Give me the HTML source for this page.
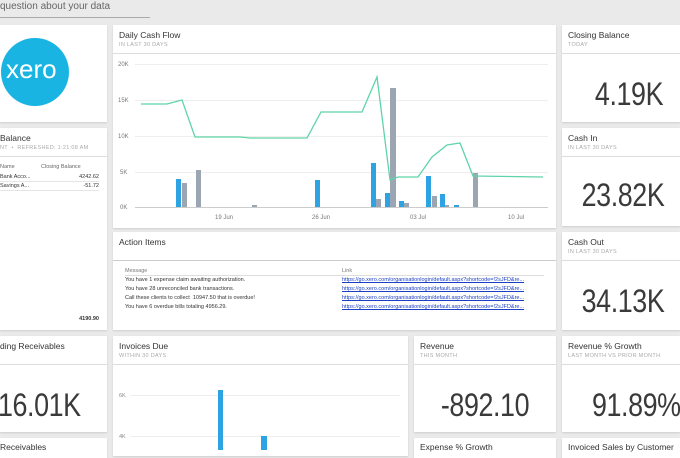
<!DOCTYPE html>
<html><head><meta charset="utf-8"><style>
body{margin:0;width:680px;height:450px;background:#eaeaea;position:relative;overflow:hidden;font-family:"Segoe UI","Liberation Sans",sans-serif;color:#333}
.t{position:absolute;background:#fff;box-shadow:0 1px 2px rgba(0,0,0,.12);overflow:hidden}
.h{position:absolute;left:6px;top:5px;font-size:8.5px;color:#333;white-space:nowrap}
.s{position:absolute;left:6px;top:17px;font-size:5.5px;color:#aaa;letter-spacing:.3px;white-space:nowrap}
.sep{position:absolute;left:0;right:0;top:28px;height:1px;background:#ddd}
.big{position:absolute;left:0;right:0;text-align:center;font-size:32px;color:#3a3a3a;font-family:"Liberation Sans",sans-serif;letter-spacing:-.5px;transform:scaleX(.84);transform-origin:center}
.a{position:absolute;font-size:5.5px;white-space:nowrap}
</style></head><body>
<div style="position:absolute;left:0;top:1px;font-size:10px;color:#666">question about your data</div>
<div style="position:absolute;left:0;top:17px;width:150px;height:1px;background:#aaa"></div>

<div class="t" style="left:0;top:25px;width:107px;height:97px">
<div style="position:absolute;left:1px;top:13px;width:68px;height:68px;border-radius:50%;background:#1ab4e3"></div>
<div style="position:absolute;left:6px;top:29px;font-size:26px;color:#fff;font-family:'Liberation Sans',sans-serif;">xero</div>
</div>

<div class="t" style="left:0;top:128px;width:107px;height:202px">
<div class="h" style="left:0">Balance</div>
<div class="s" style="left:0">NT &nbsp;• &nbsp;REFRESHED: 1:21:08 AM</div>
<div class="sep"></div>
<div class="a" style="left:0;top:36px;color:#666">Name</div><div class="a" style="left:41px;top:36px;color:#666">Closing Balance</div>
<div class="a" style="left:0;top:46px">Bank Acco...</div><div class="a" style="right:8px;top:46px">4242.62</div>
<div class="a" style="left:0;top:55px">Savings A...</div><div class="a" style="right:8px;top:55px">-51.72</div>
<div style="position:absolute;left:0;right:8px;top:53px;height:1px;background:#e5e5e5"></div>
<div style="position:absolute;left:0;right:8px;top:62px;height:1px;background:#e5e5e5"></div>
<div class="a" style="right:8px;top:188px;font-weight:bold">4190.90</div>
</div>

<div class="t" style="left:113px;top:25px;width:443px;height:203px">
<div class="h">Daily Cash Flow</div><div class="s">IN LAST 30 DAYS</div><div class="sep"></div>
</div>
<svg style="position:absolute;left:0;top:0" width="680" height="450">
<g stroke="#eee" stroke-width="1">
<line x1="135" x2="548" y1="64.5" y2="64.5"/><line x1="135" x2="548" y1="100.5" y2="100.5"/><line x1="135" x2="548" y1="136.5" y2="136.5"/><line x1="135" x2="548" y1="172.5" y2="172.5"/>
</g>
<line x1="135" x2="548" y1="207.5" y2="207.5" stroke="#ccc"/>
<g font-size="6" fill="#777" font-family="Liberation Sans,sans-serif">
<text x="118" y="66">20K</text><text x="118" y="102">15K</text><text x="118" y="138">10K</text><text x="120" y="174">5K</text><text x="120" y="209">0K</text>
<text x="215" y="219">19 Jun</text><text x="312" y="219">26 Jun</text><text x="410" y="219">03 Jul</text><text x="508" y="219">10 Jul</text>
</g>
<g fill="#2ea3e3">
<rect x="176" y="179" width="5" height="28"/><rect x="315" y="180" width="5" height="27"/><rect x="371" y="163" width="5" height="44"/><rect x="385" y="193" width="5" height="14"/><rect x="399" y="201" width="5" height="6"/><rect x="426" y="176" width="5" height="31"/><rect x="440" y="194" width="5" height="13"/><rect x="454" y="205" width="5" height="2"/>
</g>
<g fill="#9ba6b2">
<rect x="182" y="183" width="5" height="24"/><rect x="196" y="170" width="5" height="37"/><rect x="252" y="205" width="5" height="2"/><rect x="376" y="199" width="5" height="8"/><rect x="390" y="88" width="6" height="119"/><rect x="404" y="203" width="5" height="4"/><rect x="432" y="196" width="5" height="11"/><rect x="445" y="205" width="4" height="2"/><rect x="473" y="173" width="5" height="34"/>
</g>
<polyline fill="none" stroke="#5fd4a8" stroke-width="1.3" points="141,104 167,104 182,100 195,137 240,137 250,138 307,138 321,112 362,112 377,77 390,180 398,177 418,177 432,157 447,145 460,143 473,176 543,177"/>
</svg>

<div class="t" style="left:113px;top:232px;width:443px;height:98px">
<div class="h">Action Items</div><div style="position:absolute;left:0;right:0;top:28px;height:1px;background:#ccc"></div>
<div class="a" style="left:12px;top:36px;color:#777">Message</div><div class="a" style="left:229px;top:36px;color:#777">Link</div>
<div style="position:absolute;left:12px;right:12px;top:43px;height:1px;background:#ddd"></div>
<div class="a" style="left:12px;top:45px">You have 1 expense claim awaiting authorization.</div>
<div class="a" style="left:12px;top:54px">You have 28 unreconciled bank transactions.</div>
<div class="a" style="left:12px;top:63px">Call these clients to collect &nbsp;10947.50 that is overdue!</div>
<div class="a" style="left:12px;top:72px">You have 6 overdue bills totaling 4956.29.</div>
<div class="a" style="left:229px;top:45px;color:#1a3fc4;text-decoration:underline">https://go.xero.com/organisationlogin/default.aspx?shortcode=!2sJFD&amp;re...</div>
<div class="a" style="left:229px;top:54px;color:#1a3fc4;text-decoration:underline">https://go.xero.com/organisationlogin/default.aspx?shortcode=!2sJFD&amp;re...</div>
<div class="a" style="left:229px;top:63px;color:#1a3fc4;text-decoration:underline">https://go.xero.com/organisationlogin/default.aspx?shortcode=!2sJFD&amp;re...</div>
<div class="a" style="left:229px;top:72px;color:#1a3fc4;text-decoration:underline">https://go.xero.com/organisationlogin/default.aspx?shortcode=!2sJFD&amp;re...</div>
</div>

<div class="t" style="left:562px;top:25px;width:118px;height:97px"><div class="h">Closing Balance</div><div class="s">TODAY</div><div class="sep"></div><div class="big" style="top:51px;left:16px">4.19K</div></div>
<div class="t" style="left:562px;top:128px;width:118px;height:98px"><div class="h">Cash In</div><div class="s">IN LAST 30 DAYS</div><div class="sep"></div><div class="big" style="top:49px;left:4px">23.82K</div></div>
<div class="t" style="left:562px;top:232px;width:118px;height:98px"><div class="h">Cash Out</div><div class="s">IN LAST 30 DAYS</div><div class="sep"></div><div class="big" style="top:51px;left:4px">34.13K</div></div>

<div class="t" style="left:0;top:336px;width:107px;height:96px"><div class="h" style="left:0">ding Receivables</div><div class="sep"></div><div class="big" style="top:51px;text-align:left;left:-2px;transform-origin:left">16.01K</div></div>
<div class="t" style="left:113px;top:336px;width:295px;height:120px"><div class="h">Invoices Due</div><div class="s">WITHIN 30 DAYS</div><div class="sep"></div></div>
<svg style="position:absolute;left:0;top:0" width="680" height="450">
<line x1="130" x2="400" y1="395.5" y2="395.5" stroke="#eee"/><line x1="130" x2="400" y1="436.5" y2="436.5" stroke="#eee"/>
<g font-size="5.5" fill="#888" font-family="Liberation Sans,sans-serif"><text x="119" y="397">6K</text><text x="119" y="438">4K</text></g>
<rect x="218" y="390" width="5" height="60" fill="#2ea3e3"/><rect x="261" y="436" width="6" height="20" fill="#2ea3e3"/>
</svg>
<div class="t" style="left:414px;top:336px;width:142px;height:96px"><div class="h">Revenue</div><div class="s">THIS MONTH</div><div class="sep"></div><div class="big" style="top:51px">-892.10</div></div>
<div class="t" style="left:562px;top:336px;width:118px;height:96px"><div class="h">Revenue % Growth</div><div class="s">LAST MONTH VS PRIOR MONTH</div><div class="sep"></div><div class="big" style="top:51px;left:30px;text-align:left;transform-origin:left">91.89%</div></div>

<div class="t" style="left:0;top:438px;width:107px;height:20px"><div class="h" style="left:0;top:4px">Receivables</div></div>
<div class="t" style="left:414px;top:438px;width:142px;height:20px"><div class="h" style="top:4px">Expense % Growth</div></div>
<div class="t" style="left:562px;top:438px;width:118px;height:20px"><div class="h" style="top:4px">Invoiced Sales by Customer</div></div>
</body></html>
